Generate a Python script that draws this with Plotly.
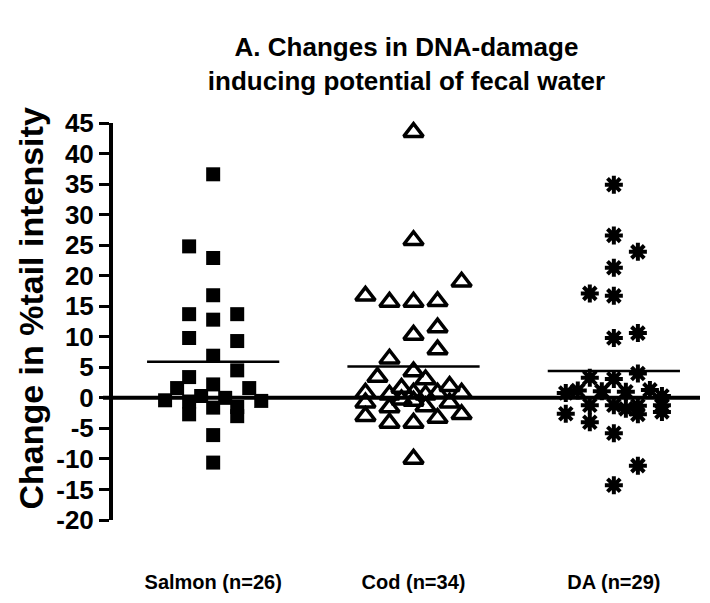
import plotly.graph_objects as go

# Change in %tail intensity per participant, by diet group
groups = ["Salmon (n=26)", "Cod (n=34)", "DA (n=29)"]

salmon = [36.6, 24.8, 22.9, 16.8, 13.7, 12.8, 13.7, 9.8, 9.3, 6.9, 4.5, 3.4,
          2.2, 1.6, 1.6, 0.3, 0.0, -0.4, -0.5, -0.6, -1.6, -2.7, -3.0, -1.5,
          -6.1, -10.6]
cod = [43.5, 25.8, 19.0, 16.7, 15.7, 15.7, 15.8, 11.5, 10.3, 7.9, 6.4, 4.3,
       3.4, 3.0, 0.8, 0.5, 1.6, 0.8, 0.5, 0.8, 1.9, 0.8, -0.8, -1.6, -0.5,
       -1.4, -3.0, -4.1, -4.1, -3.3, -2.7, -10.0, -0.3, -0.8]
da = [34.9, 26.6, 23.9, 21.3, 17.1, 16.7, 10.6, 9.8, 4.0, 3.3, 3.1, 0.8,
      1.2, 1.1, 1.0, 1.3, 0.3, -2.6, -1.2, -4.0, -1.2, -1.8, -1.3, -2.7,
      -1.2, -2.3, -5.8, -11.1, -14.3]

# Horizontal scatter slot of each point (column index around the group centre)
salmon_slot = [0, -2, 0, 0, -2, 0, 2, -2, 2, 0, 2, -2,
               0, -3, 3, -1, 1, -4, 4, -2, 0, -2, 2, 2,
               0, 0]
cod_slot = [0, 0, 4, -4, -2, 0, 2, 2, 0, 2, -2, 0,
            -3, 1, -4, -2, -1, 0, 1, 2, 3, 4, -4, -2, 0,
            1, -4, -2, 0, 2, 4, 0, -1, 3]
da_slot = [0, 0, 2, 0, -2, 0, 2, 0, 2, -2, 0, -4,
           -3, -1, 1, 3, 4, -4, -2, -2, 0, 1, 2, 2,
           4, 4, 0, 2, 0]

yticks = list(range(-20, 50, 5))

slot_step = 0.06
mean_half = 0.33
font = "Liberation Sans, Arial, sans-serif"

fig = go.Figure()

series = [
    (salmon, salmon_slot, dict(symbol="square", size=14, color="black")),
    (cod, cod_slot, dict(symbol="triangle-up-open", size=17, color="black",
                         line=dict(width=3.5, color="black"))),
    (da, da_slot, dict(symbol="asterisk-open", size=15, color="black",
                       line=dict(width=4, color="black"))),
]

for i, (vals, slots, marker) in enumerate(series):
    xs = [i + s * slot_step for s in slots]
    fig.add_trace(go.Scatter(x=xs, y=vals, mode="markers", marker=marker,
                             showlegend=False, cliponaxis=False))
    m = sum(vals) / len(vals)
    fig.add_trace(go.Scatter(x=[i - mean_half, i + mean_half], y=[m, m],
                             mode="lines", line=dict(color="black", width=2.5),
                             showlegend=False))

# Zero reference line, running through the zero tick as well
fig.add_shape(type="line", xref="paper", x0=-0.017, x1=1, yref="y", y0=0, y1=0,
              line=dict(color="black", width=4))

# Vertical axis title
fig.add_annotation(text="<b>Change in %tail intensity</b>", textangle=-90,
                   xref="paper", x=(31 - 113) / 587, xanchor="center",
                   yref="paper", y=(523 - 310) / 400, yanchor="middle",
                   showarrow=False,
                   font=dict(family=font, size=34, color="black"))

fig.update_layout(
    width=710, height=603,
    margin=dict(l=113, r=10, t=123, b=80),
    plot_bgcolor="white", paper_bgcolor="white",
    title=dict(text="<b>A. Changes in DNA-damage<br>inducing potential of fecal water</b>",
               x=(113 + 700) / 2 / 710, xanchor="center",
               yref="container", y=1 - 56 / 603, yanchor="middle",
               font=dict(family=font, size=26, color="black")),
    xaxis=dict(range=[-0.5, 2.43], tickvals=[0, 1, 2],
               ticktext=["<b>%s</b>" % g for g in groups],
               showline=False, showgrid=False, zeroline=False, ticks="",
               ticklabelstandoff=48,
               tickfont=dict(family=font, size=20, color="black")),
    yaxis=dict(range=[-20, 45], tickvals=yticks, ticktext=[str(t) for t in yticks],
               showline=True, linecolor="black", linewidth=4,
               ticks="outside", ticklen=10, tickwidth=3, tickcolor="black",
               showgrid=False, zeroline=False,
               tickfont=dict(family=font, size=26, color="black", weight="bold")),
)

fig.write_html("out.html")
